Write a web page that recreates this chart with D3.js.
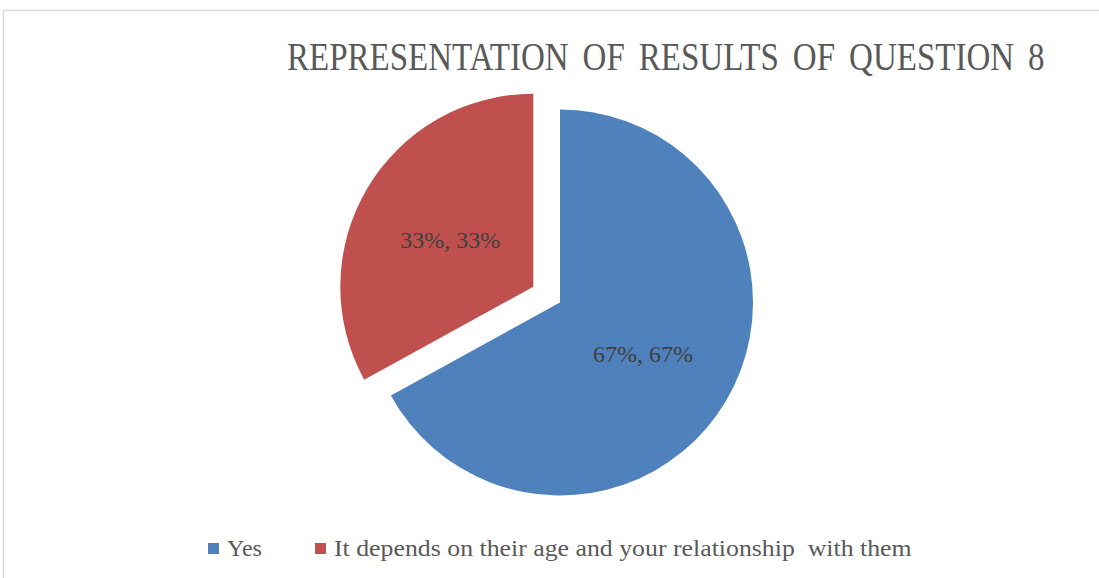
<!DOCTYPE html>
<html>
<head>
<meta charset="utf-8">
<script src="https://cdn.jsdelivr.net/npm/d3@7"></script>
<style>
  html, body { margin: 0; padding: 0; background: #fff; }
  svg { display: block; }
</style>
</head>
<body>
<script>
// Survey answers for question 8
const categories = ["Yes", "It depends on their age and your relationship  with them"];
const values = [67, 33];
const dataLabels = ["67%, 67%", "33%, 33%"];
const colors = ["#4F81BD", "#C0504D"];
const exploded = [false, true];
const titleText = "REPRESENTATION OF RESULTS OF QUESTION 8";

const W = 1099, H = 578;
const FONT = "'Liberation Serif', serif";
const svg = d3.select("body").append("svg").attr("width", W).attr("height", H);

// place a text at (x, y) and squeeze it horizontally to the given width
function fittedText(parent, str, x, y, size, width, fill, wordSpacing) {
  const g = parent.append("g");
  const t = g.append("text")
    .attr("x", 0).attr("y", 0)
    .attr("font-family", FONT)
    .attr("font-size", size)
    .attr("fill", fill)
    .style("white-space", "pre")
    .style("word-spacing", (wordSpacing || 0) + "px")
    .text(str);
  const natural = t.node().getComputedTextLength();
  const k = natural > 0 ? width / natural : 1;
  g.attr("transform", `translate(${x},${y}) scale(${k},1)`);
  return t;
}

// chart frame
svg.append("rect")
  .attr("x", 3.5).attr("y", 10.5)
  .attr("width", W + 10).attr("height", H + 10)
  .attr("fill", "none").attr("stroke", "#d9d9d9").attr("stroke-width", 1.5);

// title
fittedText(svg, titleText, 287, 70, 40, 758, "#595959", 7);

// pie
const cx = 560, cy = 302.5, R = 193, explodeDist = 31;
const pie = d3.pie().sort(null).value(d => d.value);
const arc = d3.arc().innerRadius(0).outerRadius(R);
const rows = categories.map((c, i) => ({ cat: c, value: values[i], label: dataLabels[i], color: colors[i], exploded: exploded[i] }));
const arcs = pie(rows);

const g = svg.append("g").attr("transform", `translate(${cx},${cy})`);
const slice = g.selectAll("g.slice").data(arcs).enter().append("g")
  .attr("class", "slice")
  .attr("transform", d => {
    if (!d.data.exploded) return null;
    const a = (d.startAngle + d.endAngle) / 2;
    return `translate(${Math.sin(a) * explodeDist},${-Math.cos(a) * explodeDist})`;
  });

slice.append("path")
  .attr("d", arc)
  .attr("fill", d => d.data.color);

// data labels
slice.append("text")
  .attr("transform", d => {
    const a = (d.startAngle + d.endAngle) / 2;
    const r = R * 0.5;
    return `translate(${Math.sin(a) * r},${-Math.cos(a) * r + 2})`;
  })
  .attr("text-anchor", "middle")
  .attr("dy", "0.35em")
  .attr("font-family", FONT)
  .attr("font-size", 24)
  .attr("fill", "#404040")
  .text(d => d.data.label);

// legend
const legendItems = [
  { x: 208, textX: 227, width: 35 },
  { x: 315, textX: 334, width: 578 }
];
const legend = svg.append("g");
rows.forEach((r, i) => {
  const it = legendItems[i];
  legend.append("rect")
    .attr("x", it.x).attr("y", 543)
    .attr("width", 11).attr("height", 11)
    .attr("fill", r.color);
  fittedText(legend, r.cat, it.textX, 556, 23, it.width, "#595959", 0);
});
</script>
</body>
</html>
